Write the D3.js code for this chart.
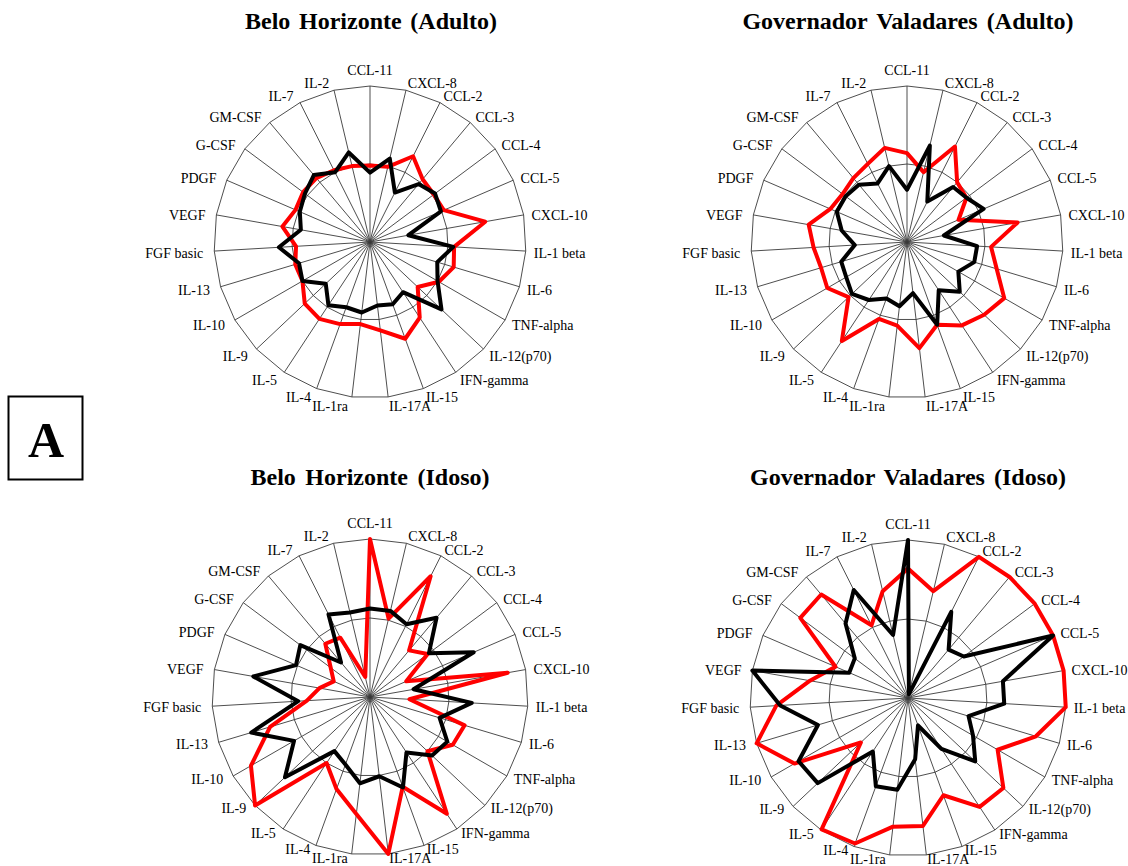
<!DOCTYPE html>
<html>
<head>
<meta charset="utf-8">
<script src="https://cdn.jsdelivr.net/npm/d3@7"></script>
<style>
  body { margin: 0; background: #fff; }
  svg { display: block; }
</style>
</head>
<body>
<svg id="fig" width="1128" height="866"></svg>
<script>
// Cytokine axes, clockwise from the top
const categories = ["CCL-11", "CXCL-8", "CCL-2", "CCL-3", "CCL-4", "CCL-5", "CXCL-10",
  "IL-1 beta", "IL-6", "TNF-alpha", "IL-12(p70)", "IFN-gamma", "IL-15", "IL-17A",
  "IL-1ra", "IL-4", "IL-5", "IL-9", "IL-10", "IL-13", "FGF basic", "VEGF", "PDGF",
  "G-CSF", "GM-CSF", "IL-7", "IL-2"];

// Radial grid levels (inner ring and outer ring)
const gridLevels = [1, 2];

const panelTitles = ["Belo Horizonte (Adulto)", "Governador Valadares (Adulto)",
  "Belo Horizonte (Idoso)", "Governador Valadares (Idoso)"];

// Belo Horizonte, adults
const bhAdultoRed   = [0.98, 0.99, 1.23, 1.05, 1.02, 1.03, 1.50, 1.08, 1.12, 1.02, 0.84, 1.16, 1.32, 1.14,
                       1.06, 1.12, 1.18, 1.15, 1.00, 1.00, 0.95, 1.14, 1.04, 1.07, 1.07, 1.03, 1.00];
const bhAdultoBlack = [0.89, 1.10, 0.71, 0.97, 1.04, 0.99, 0.50, 1.07, 0.90, 1.00, 1.26, 0.77, 0.85, 0.82,
                       0.91, 0.89, 0.97, 0.78, 1.00, 0.95, 1.17, 0.90, 0.98, 1.04, 1.12, 1.00, 1.18];

// Governador Valadares, adults
const gvAdultoRed   = [1.14, 0.92, 1.37, 1.00, 0.95, 0.72, 1.44, 1.08, 1.20, 1.44, 1.36, 1.28, 1.13, 1.37,
                       1.08, 1.05, 1.52, 1.03, 1.18, 1.15, 1.20, 1.28, 1.07, 1.03, 1.07, 1.12, 1.24];
const gvAdultoBlack = [0.67, 1.27, 0.58, 0.92, 0.95, 1.07, 0.48, 0.90, 0.90, 0.76, 0.93, 0.74, 1.13, 0.66,
                       0.83, 0.77, 0.89, 0.97, 0.90, 0.88, 0.67, 0.85, 0.98, 0.98, 0.96, 0.84, 1.00];

// Belo Horizonte, elderly
const bhIdosoRed    = [2.00, 1.02, 1.71, 0.77, 0.91, 0.50, 1.77, 0.50, 1.25, 1.21, 1.00, 1.77, 1.21, 2.00,
                       1.49, 1.24, 1.00, 2.00, 1.74, 1.32, 0.80, 0.65, 0.50, 0.62, 0.88, 0.84, 0.26];
const bhIdosoBlack  = [1.12, 1.12, 1.03, 1.31, 0.93, 1.43, 0.56, 1.29, 0.92, 1.13, 1.08, 0.84, 1.22, 1.01,
                       1.10, 0.91, 0.82, 1.48, 1.11, 1.57, 0.91, 1.50, 1.02, 1.10, 0.57, 1.17, 1.10];

// Governador Valadares, elderly
const gvIdosoRed    = [1.64, 1.39, 2.00, 2.00, 2.00, 2.00, 2.00, 2.00, 1.69, 1.31, 1.66, 1.65, 1.31, 1.63,
                       1.64, 1.96, 1.99, 0.82, 1.66, 2.00, 1.67, 1.26, 1.00, 1.70, 1.71, 1.03, 1.39];
const gvIdosoBlack  = [2.00, 0.05, 1.22, 0.80, 0.88, 2.00, 1.22, 1.22, 0.80, 0.95, 1.17, 0.77, 0.37, 0.78,
                       1.17, 1.19, 0.81, 1.57, 1.60, 1.19, 1.62, 2.00, 0.81, 0.84, 1.23, 1.53, 0.82];

const panelSeries = [
  [bhAdultoRed, bhAdultoBlack],
  [gvAdultoRed, gvAdultoBlack],
  [bhIdosoRed, bhIdosoBlack],
  [gvIdosoRed, gvIdosoBlack]
];

// Layout of the four radar panels (squeeze = vertical compression of the lower labels)
const layout = [
  { cx: 370, cy: 242, r: 156, tx: 371, ty: 29, tw: 252, squeeze: 1 },
  { cx: 907, cy: 242, r: 156, tx: 908, ty: 29, tw: 331, squeeze: 1 },
  { cx: 370, cy: 697, r: 158, tx: 370, ty: 485, tw: 239, squeeze: 0.97 },
  { cx: 908, cy: 698, r: 158, tx: 908, ty: 485, tw: 316, squeeze: 0.97 }
];

const serif = "'Liberation Serif', 'Times New Roman', serif";
const seriesColors = ["#ff0000", "#000000"];
const svg = d3.select("#fig");
const n = categories.length;
const angle = d3.scaleLinear().domain([0, n]).range([0, 2 * Math.PI]);

layout.forEach((p, k) => {
  const rScale = d3.scaleLinear().domain([0, d3.max(gridLevels)]).range([0, p.r]);
  const g = svg.append("g").attr("transform", `translate(${p.cx},${p.cy})`);

  // polygonal grid rings
  const ring = d3.lineRadial()
    .angle((d, i) => angle(i))
    .radius(d => rScale(d))
    .curve(d3.curveLinearClosed);
  gridLevels.forEach(level => {
    g.append("path")
      .attr("d", ring(categories.map(() => level)))
      .attr("fill", "none")
      .attr("stroke", "#3a3a3a")
      .attr("stroke-width", 0.9);
  });

  // spokes
  g.selectAll("line.spoke").data(categories).join("line")
    .attr("class", "spoke")
    .attr("x1", 0).attr("y1", 0)
    .attr("x2", (d, i) => Math.sin(angle(i)) * rScale(d3.max(gridLevels)))
    .attr("y2", (d, i) => -Math.cos(angle(i)) * rScale(d3.max(gridLevels)))
    .attr("stroke", "#3a3a3a")
    .attr("stroke-width", 0.9);

  // axis labels
  const lr = p.r + 8;
  g.selectAll("text.axis").data(categories).join("text")
    .attr("class", "axis")
    .each(function (d, i) {
      const a = angle(i);
      const s = Math.sin(a), c = Math.cos(a);
      let x = s * lr, y = -c * lr;
      let anchor = "middle";
      if (Math.abs(s) > 0.01) anchor = s > 0 ? "start" : "end";
      if (s < -0.01) x -= 3;
      if (y > 0) y *= p.squeeze;
      if (i === 0) y -= 3; else y += 6;
      d3.select(this)
        .attr("x", x).attr("y", y)
        .attr("text-anchor", anchor);
    })
    .attr("font-family", serif)
    .attr("font-size", 14)
    .attr("fill", "#000")
    .text(d => d);

  // data series
  const line = d3.lineRadial()
    .angle((d, i) => angle(i))
    .radius(d => rScale(d))
    .curve(d3.curveLinearClosed);
  panelSeries[k].forEach((vals, j) => {
    g.append("path")
      .attr("d", line(vals))
      .attr("fill", "none")
      .attr("stroke", seriesColors[j])
      .attr("stroke-width", 4)
      .attr("stroke-linejoin", "round");
  });

  // panel title, widened through word spacing only
  const title = svg.append("text")
    .attr("x", p.tx).attr("y", p.ty)
    .attr("text-anchor", "middle")
    .attr("font-family", serif)
    .attr("font-weight", "bold")
    .attr("font-size", 24)
    .text(panelTitles[k]);
  const natural = title.node().getComputedTextLength();
  const gaps = panelTitles[k].split(" ").length - 1;
  const extra = Math.max(0, Math.min(5, (p.tw - natural) / gaps));
  title.attr("word-spacing", extra.toFixed(1));
});

// panel letter box
svg.append("rect")
  .attr("x", 8.5).attr("y", 396.5).attr("width", 74).attr("height", 83)
  .attr("fill", "none").attr("stroke", "#000").attr("stroke-width", 2);
svg.append("text")
  .attr("x", 46).attr("y", 457)
  .attr("text-anchor", "middle")
  .attr("font-family", serif)
  .attr("font-weight", "bold")
  .attr("font-size", 50)
  .text("A");
</script>
</body>
</html>
